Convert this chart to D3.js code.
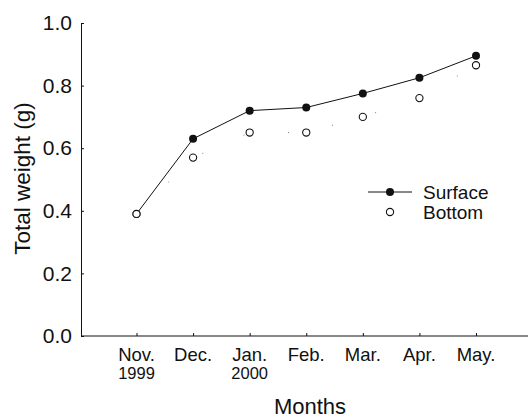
<!DOCTYPE html>
<html>
<head>
<meta charset="utf-8">
<script src="https://cdn.jsdelivr.net/npm/d3@7"></script>
<style>
  html, body { margin: 0; padding: 0; background: #fff; }
  svg { display: block; font-family: "Liberation Sans", Arial, sans-serif; }
</style>
</head>
<body>
<svg id="chart" width="529" height="419"></svg>
<script>
// Monthly total weight of the two sampled groups
const months = ["Nov.", "Dec.", "Jan.", "Feb.", "Mar.", "Apr.", "May."];
const years = ["1999", "", "2000", "", "", "", ""];
const surface = [0.39, 0.63, 0.72, 0.73, 0.775, 0.825, 0.895];
const bottom = [0.39, 0.57, 0.65, 0.65, 0.70, 0.76, 0.865];
const yTicks = [0.0, 0.2, 0.4, 0.6, 0.8, 1.0];
const legendLabels = ["Surface", "Bottom"];

const svg = d3.select("#chart");
const ink = "#111";

const x = d3.scalePoint().domain(months).range([136.5, 476]);
const y = d3.scaleLinear().domain([0, 1]).range([336, 23]);
const axisLeftX = 81, axisRightX = 528;

// Axes
const gx = svg.append("g").attr("transform", `translate(0,${y(0)})`);
gx.append("line")
  .attr("x1", axisLeftX).attr("x2", axisRightX)
  .attr("stroke", ink).attr("stroke-width", 1);
gx.call(d3.axisBottom(x).tickSize(-3).tickFormat(""))
  .call(g => g.select(".domain").remove())
  .call(g => g.selectAll(".tick line").attr("stroke", ink));
gx.selectAll(".monthLabel").data(months).join("text")
  .attr("x", d => x(d)).attr("y", 25)
  .attr("text-anchor", "middle").attr("font-size", 18.5).attr("fill", ink)
  .text(d => d);
gx.selectAll(".yearLabel").data(months).join("text")
  .attr("x", d => x(d)).attr("y", 43)
  .attr("text-anchor", "middle").attr("font-size", 16.5).attr("fill", ink)
  .text((d, i) => years[i]);

const gy = svg.append("g").attr("transform", `translate(${axisLeftX},0)`);
gy.call(d3.axisLeft(y).tickValues(yTicks).tickSize(-3).tickSizeOuter(0)
        .tickPadding(9).tickFormat(d3.format(".1f")))
  .call(g => g.select(".domain").attr("stroke", ink))
  .call(g => g.selectAll(".tick line").attr("stroke", ink))
  .call(g => g.selectAll(".tick text")
    .attr("font-size", 21).attr("fill", ink)
    .attr("font-family", "'Liberation Sans', Arial, sans-serif"));

// Axis titles
svg.append("text")
  .attr("transform", "translate(30,178.5) rotate(-90)")
  .attr("text-anchor", "middle").attr("font-size", 22.5).attr("fill", ink)
  .text("Total weight (g)");
svg.append("text")
  .attr("x", 310).attr("y", 414)
  .attr("text-anchor", "middle").attr("font-size", 22).attr("fill", ink)
  .text("Months");

// Lines
const line = d3.line().x((d, i) => x(months[i])).y(d => y(d));
svg.append("path").datum(bottom)
  .attr("d", line).attr("fill", "none")
  .attr("stroke", "#777").attr("stroke-width", 1)
  .attr("stroke-dasharray", "1,44");
svg.append("path").datum(surface)
  .attr("d", line).attr("fill", "none")
  .attr("stroke", ink).attr("stroke-width", 1);

// Markers
svg.selectAll(".surf").data(surface).join("circle")
  .attr("cx", (d, i) => x(months[i])).attr("cy", d => y(d))
  .attr("r", 4).attr("fill", ink);
svg.selectAll(".bot").data(bottom).join("circle")
  .attr("cx", (d, i) => x(months[i])).attr("cy", d => y(d))
  .attr("r", 3.6).attr("fill", "#fff").attr("stroke", ink).attr("stroke-width", 1.1);

// Legend
const lg = svg.append("g");
lg.append("line").attr("x1", 368).attr("x2", 412).attr("y1", 192).attr("y2", 192)
  .attr("stroke", ink).attr("stroke-width", 1);
lg.append("circle").attr("cx", 390).attr("cy", 192).attr("r", 4).attr("fill", ink);
lg.append("circle").attr("cx", 390).attr("cy", 212).attr("r", 3.6)
  .attr("fill", "#fff").attr("stroke", ink).attr("stroke-width", 1.1);
lg.selectAll(".lgText").data(legendLabels).join("text")
  .attr("x", 423).attr("y", (d, i) => 199 + i * 20)
  .attr("font-size", 19).attr("fill", ink)
  .text(d => d);
</script>
</body>
</html>
